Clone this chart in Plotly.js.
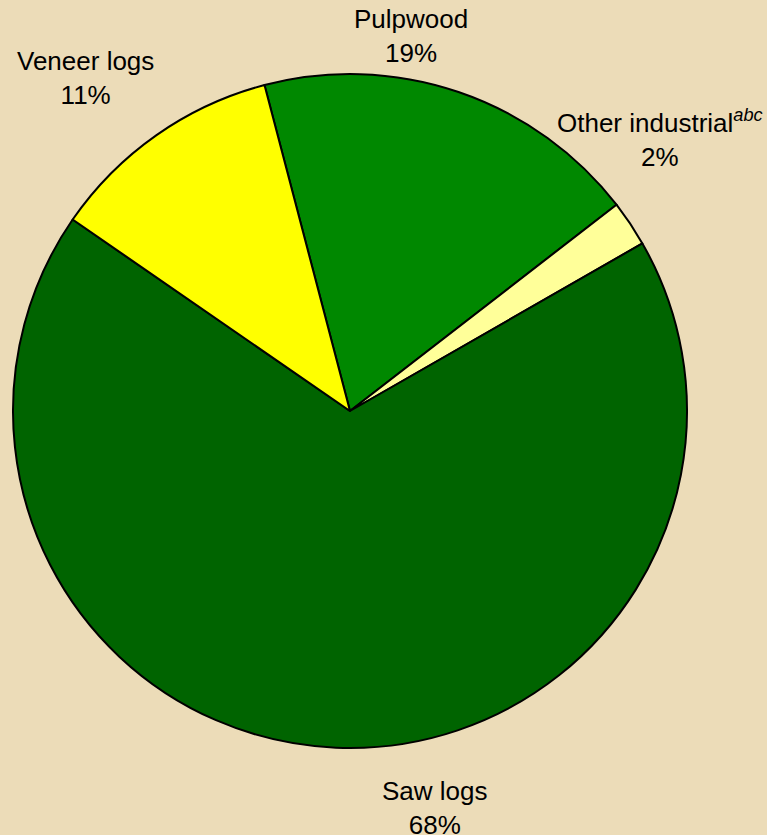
<!DOCTYPE html>
<html>
<head>
<meta charset="utf-8">
<script src="https://cdn.plot.ly/plotly-3.0.1.min.js"></script>
<style>
html,body{margin:0;padding:0;background:#ecdcb8;}
#chart{width:767px;height:835px;}
</style>
</head>
<body>
<div id="chart"></div>
<script>
// Data (slice shares)
const labels = ["Pulpwood", "Other industrial<sup><i>abc</i></sup>", "Saw logs", "Veneer logs"];
const values = [18.6, 2.2, 67.9, 11.3];
const colors = ["#008800", "#ffff99", "#006400", "#ffff00"];
// label placement (pixels) for the outside labels
const labelX = [411, 660, 435, 85];
const labelY = [36, 138, 808, 78];

const W = 767, H = 835;
const cx = 350, cy = 411, r = 337;
const total = values.reduce((a, b) => a + b, 0);

const annotations = labels.map((l, i) => ({
  text: l + "<br>" + Math.round(values[i] / total * 100) + "%",
  x: labelX[i] / W,
  y: 1 - labelY[i] / H,
  xref: "paper", yref: "paper",
  xanchor: "center", yanchor: "middle",
  showarrow: false,
  align: "center",
  font: {family: "Liberation Sans, Arial, Helvetica, sans-serif", size: 26, color: "#000"}
}));

const trace = {
  type: "pie",
  labels: labels,
  values: values,
  sort: false,
  direction: "clockwise",
  rotation: -14.7,
  textinfo: "none",
  hoverinfo: "label+percent",
  marker: {colors: colors, line: {color: "#000", width: 2}},
  domain: {x: [(cx - r) / W, (cx + r) / W], y: [1 - (cy + r) / H, 1 - (cy - r) / H]},
  showlegend: false
};

const layout = {
  width: W, height: H,
  margin: {l: 0, r: 0, t: 0, b: 0},
  paper_bgcolor: "#ecdcb8",
  plot_bgcolor: "#ecdcb8",
  showlegend: false,
  annotations: annotations
};

Plotly.newPlot("chart", [trace], layout, {displayModeBar: false, staticPlot: true});
</script>
</body>
</html>
